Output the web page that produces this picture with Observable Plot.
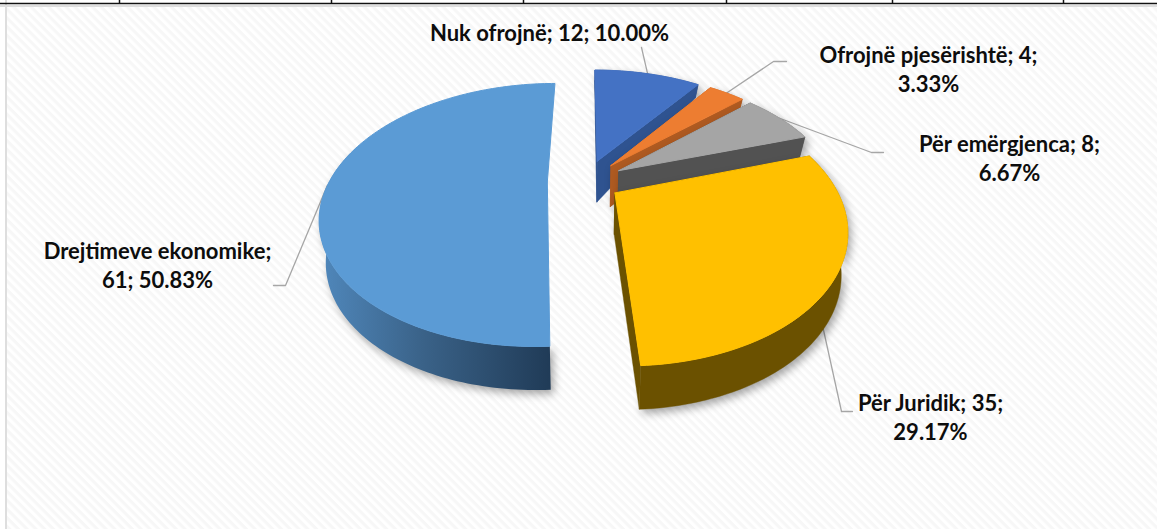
<!DOCTYPE html>
<html>
<head>
<meta charset="utf-8">
<script src="https://cdn.jsdelivr.net/npm/d3@7"></script>
<script src="https://cdn.jsdelivr.net/npm/@observablehq/plot@0.6"></script>
<style>html,body{margin:0;padding:0;background:#fff}svg{display:block}</style>
</head>
<body>
<div id="chart"></div>
<script>
// Data, clockwise from the top of the pie
const names = ["Nuk ofrojnë", "Ofrojnë pjesërishtë", "Për emërgjenca", "Për Juridik", "Drejtimeve ekonomike"];
const counts = [12, 4, 8, 35, 61];
const percents = ["10.00", "3.33", "6.67", "29.17", "50.83"];
const topColors = ["#4472c4", "#ed7d31", "#a5a5a5", "#ffc000", "#5b9bd5"];
const sideColors = ["#2f5390", "#ae5a21", "#525252", "#6b5100", "url(#blueSide)"];
const explodes = [0.18, 0.18, 0.18, 0.16, 0.175];

// Label layout
const labelX = [549, 928, 1009, 930, 157];
const labelY = [31, 68, 157, 416, 264];
const labelBreakAfterName = [false, false, false, false, true];
const labelBreakAfterCount = [false, true, true, true, false];
const elbowsX = [[641], [773, 786], [871, 883], [822, 841, 852], [285, 273]];
const elbowsY = [[47], [61, 61], [152, 152], [325, 411, 411], [285, 285]];

// Top table rule and panel
const ruleTicks = [119, 331, 523, 726, 892, 1063];
const panel = [{x1: 6, x2: 1157, y1: 7, y2: 529}];

// Perspective model of the exploded pie
const W = 1157, H = 529;
const cx = 585, cy = 181, rx = 218, ry = 123, k = 0.25;
const depthScale = d3.scaleLinear().domain([-1.2, -1, -0.4, -0.17, 1.2]).range([10, 13, 21, 41, 44]).clamp(true);
const total = d3.sum(counts);

const project = (U, V) => {
  const s = 1 / (1 - k * V);
  return {x: cx + rx * U * s, y: cy + ry * V * s, V};
};
const lower = (p) => ({x: cx + (p.x - cx) * 0.975, y: p.y + depthScale(p.V)});

let acc = 0;
const slices = counts.map((c, i) => {
  const a0 = (acc / total) * 2 * Math.PI;
  acc += c;
  const a1 = (acc / total) * 2 * Math.PI;
  const mid = (a0 + a1) / 2;
  const ox = explodes[i] * Math.sin(mid), oy = -explodes[i] * Math.cos(mid);
  const at = (a) => project(ox + Math.sin(a), oy - Math.cos(a));
  const n = Math.max(4, Math.ceil((a1 - a0) / 0.02));
  const rim = d3.range(n + 1).map((j) => at(a0 + ((a1 - a0) * j) / n));
  const apex = project(ox, oy);
  return {i, rim, apex, anchor: at(mid)};
});

const xy = {x: "x", y: "y", curve: "linear"};
const poly = (pts, fill, extra = {}) =>
  Plot.line([...pts, pts[0]], {...xy, fill, stroke: fill, strokeWidth: 0.4, ...extra});

const defs = () => {
  const g = d3.create("svg:g");
  const d = g.append("defs");
  const p = d.append("pattern").attr("id", "stripes").attr("patternUnits", "userSpaceOnUse")
    .attr("width", 8).attr("height", 6.2).attr("patternTransform", "rotate(45)");
  p.append("rect").attr("width", 8).attr("height", 6.2).attr("fill", "#ffffff");
  p.append("rect").attr("width", 8).attr("height", 3.1).attr("fill", "#f7f7f7");
  const lg = d.append("linearGradient").attr("id", "blueSide").attr("x1", 0).attr("x2", 1).attr("y1", 0).attr("y2", 0);
  lg.append("stop").attr("offset", "0%").attr("stop-color", "#5088bc");
  lg.append("stop").attr("offset", "45%").attr("stop-color", "#3a6288");
  lg.append("stop").attr("offset", "100%").attr("stop-color", "#203b57");
  return g.node();
};

const labels = names.map((name, i) => ({
  x: labelX[i],
  y: labelY[i],
  text: `${name};${labelBreakAfterName[i] ? "\n" : " "}${counts[i]};${labelBreakAfterCount[i] ? "\n" : " "}${percents[i]}%`
}));

const leaders = slices.flatMap((s) => [
  {i: s.i, x: s.anchor.x, y: s.anchor.y},
  ...elbowsX[s.i].map((x, j) => ({i: s.i, x, y: elbowsY[s.i][j]}))
]);

const shadow = "drop-shadow(3px 4px 4px rgba(0,0,0,0.35))";
const sliceMarks = (s) => {
  const bottom = s.rim.map(lower);
  const apexB = lower(s.apex);
  const first = s.rim[0], last = s.rim[s.rim.length - 1];
  const side = sideColors[s.i];
  const top = poly([s.apex, ...s.rim], topColors[s.i], {strokeWidth: 1});
  if (s.i === 4) {
    // the largest slice shows only the front part of its outer band
    const front = s.rim.filter((p) => p.V > -0.3);
    return [poly([...front, ...front.map(lower).reverse()], side, {imageFilter: shadow, stroke: "none"}), top];
  }
  const outline = [s.apex, first, ...s.rim, last, ...bottom.slice().reverse(), apexB];
  return [
    poly(outline, side, {imageFilter: shadow}),
    poly([s.apex, first, lower(first), apexB], side),
    poly([s.apex, last, lower(last), apexB], side),
    top
  ];
};

const order = [4, 0, 1, 2, 3];

const chart = Plot.plot({
  width: W,
  height: H,
  margin: 0,
  x: {type: "linear", domain: [0, W], range: [0, W], axis: null},
  y: {type: "linear", domain: [0, H], range: [0, H], axis: null},
  style: {background: "#fff"},
  marks: [
    defs,
    Plot.rect(panel, {x1: "x1", x2: "x2", y1: "y1", y2: "y2", fill: "url(#stripes)"}),
    Plot.ruleX([5.5], {stroke: "#dedede", strokeWidth: 2}),
    Plot.ruleY([5.5], {stroke: "#dedede", strokeWidth: 2}),
    Plot.ruleY([3], {stroke: "#111", strokeWidth: 1.5}),
    Plot.ruleX(ruleTicks, {y1: () => 0, y2: () => 4, stroke: "#111", strokeWidth: 1.5}),
    Plot.line(leaders, {x: "x", y: "y", z: "i", stroke: "#a6a6a6", strokeWidth: 1.3, curve: "linear"}),
    ...order.flatMap((i) => sliceMarks(slices[i])),
    Plot.text(labels, {
      x: "x", y: "y", text: "text",
      fontFamily: "Lato", fontWeight: 700, fontSize: 22, lineHeight: 1.32,
      fill: "#0d0d0d", textAnchor: "middle", lineAnchor: "middle"
    })
  ]
});
document.getElementById("chart").append(chart);
</script>
</body>
</html>
